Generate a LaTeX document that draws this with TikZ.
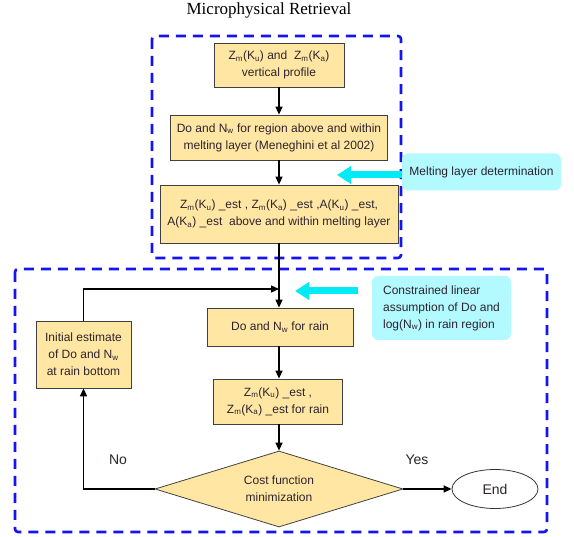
\documentclass[tikz,border=0pt]{standalone}
\usepackage{fontspec}
\setmainfont{Liberation Sans}
\newfontfamily\titlefont{Liberation Serif}
\usetikzlibrary{shapes.geometric,arrows.meta}

\definecolor{boxfill}{RGB}{255,231,163}
\definecolor{notefill}{RGB}{178,250,255}
\definecolor{hintcyan}{RGB}{0,235,245}
\definecolor{dashblue}{RGB}{20,20,240}
\definecolor{txt}{RGB}{45,35,45}

\newcommand{\lo}[1]{\textsubscript{#1}}

\begin{document}
\begin{tikzpicture}[x=1pt, y=-1pt, >={Triangle[length=8pt,width=7pt]},
    every node/.style={font=\fontsize{12}{17}\selectfont, text=txt, align=center, inner sep=0pt},
    stepbox/.style={draw=black!75, fill=boxfill, line width=0.8pt},
    notebox/.style={fill=notefill, rounded corners=6pt},
    flow/.style={->, line width=1.3pt},
    hintarrow/.style={-{Triangle[length=14pt,width=17pt]}, hintcyan, line width=7pt},
    region/.style={dashblue, line width=2.6pt, dash pattern=on 10pt off 7pt, rounded corners=3pt}]
    \useasboundingbox (0,0) rectangle (574,537);

    % Upper block (melting layer)
    \node[font=\titlefont\fontsize{17}{20}\selectfont, text=black] (title) at (269,10) {Microphysical Retrieval};
    \draw[region] (152,36) rectangle (401,258);

    \node[stepbox, minimum width=130pt, minimum height=44pt] (profile) at (279,65)
        {Z\lo{m}(K\lo{u}) and~~Z\lo{m}(K\lo{a})\\vertical profile};
    \node[stepbox, minimum width=217pt, minimum height=45pt] (mlayer) at (279,137.5)
        {Do and N\lo{w} for region above and within\\melting layer (Meneghini et al 2002)};
    \node[stepbox, minimum width=238pt, minimum height=58pt] (mlest) at (279,214)
        {Z\lo{m}(K\lo{u}) \_est , Z\lo{m}(K\lo{a}) \_est ,A(K\lo{u}) \_est,\\A(K\lo{a}) \_est~~above and within melting layer};

    \node[notebox, minimum width=159pt, minimum height=37pt] (melt) at (481.5,172) {Melting layer determination};
    \coordinate (mtip) at (337,175);

    \draw[flow] (profile) -- (mlayer);
    \draw[flow] (mlayer) -- (mlest);
    \draw[hintarrow] (mtip -| melt.west) -- (mtip);

    % Lower block (rain)
    \draw[region] (15,269) rectangle (547,532);

    \node[notebox, minimum width=139pt, minimum height=64pt, align=left] (constr) at (441.5,308)
        {Constrained linear\\assumption of Do and\\log(N\lo{w}) in rain region};
    \coordinate (ctail) at (358,291);
    \coordinate (ctip) at (295,291);
    \draw[hintarrow] (ctail) -- (ctip);

    \node[stepbox, minimum width=146pt, minimum height=38pt] (dorain) at (280,327) {Do and N\lo{w} for rain};
    \node[stepbox, minimum width=129pt, minimum height=45pt] (rainest) at (278,401.5)
        {Z\lo{m}(K\lo{u}) \_est ,\\Z\lo{m}(K\lo{a}) \_est for rain};
    \node[stepbox, minimum width=95pt, minimum height=67pt] (init) at (83.5,354.5)
        {Initial estimate\\of Do and N\lo{w}\\at rain bottom};
    \node[diamond, stepbox, aspect=3.3, minimum width=248pt, minimum height=76pt] (cost) at (279,489)
        {Cost function\\minimization};
    \node[ellipse, draw=black!80, line width=0.8pt, minimum width=86pt, minimum height=39pt,
        font=\fontsize{14}{17}\selectfont] (end) at (495,489) {End};

    \node[font=\fontsize{14}{17}\selectfont] (no) at (118,460) {No};
    \node[font=\fontsize{14}{17}\selectfont] (yes) at (417,460) {Yes};

    \coordinate (join) at (279,289);
    \draw[flow] (mlest.south -| join) -- (dorain.north -| join);
    \draw[flow] (init.north) |- (join);
    \draw[flow] (dorain.south -| join) -- (rainest.north -| join);
    \draw[flow] (rainest.south -| join) -- (cost.north);
    \draw[flow] (cost.west) -| (init.south);
    \draw[flow] (cost.east) -- (end.west);
\end{tikzpicture}
\end{document}
